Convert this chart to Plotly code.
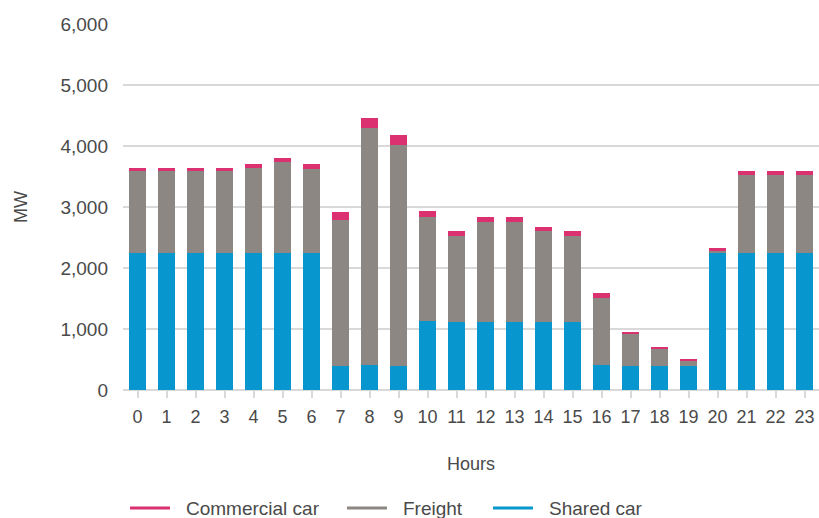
import plotly.graph_objects as go

hours = list(range(24))
hour_labels = [str(h) for h in hours]

shared_car = [2250, 2250, 2250, 2250, 2250, 2250, 2250, 400, 410, 400,
              1130, 1115, 1115, 1115, 1115, 1115, 410, 400, 400, 400,
              2250, 2250, 2250, 2250]
freight = [1340, 1340, 1340, 1340, 1390, 1490, 1375, 2390, 3885, 3615,
           1705, 1410, 1640, 1640, 1490, 1410, 1100, 520, 270, 75,
           35, 1275, 1275, 1275]
commercial_car = [50, 50, 50, 50, 65, 65, 80, 130, 165, 165,
                  100, 80, 80, 80, 65, 80, 80, 35, 35, 35,
                  50, 65, 65, 65]

series_names = ["Shared car", "Freight", "Commercial car"]
series_values = [shared_car, freight, commercial_car]
series_colors = ["#0797CE", "#8C8782", "#DC3170"]

FONT = "Liberation Sans, Arial, sans-serif"
TEXT = "#4a4a4a"
GRID = "#d9d9d9"

W, H = 819, 518
ML, MR, MT, MB = 123, 0, 24, 128
PW, PH = W - ML - MR, H - MT - MB


def px_x(x):
    return (x - ML) / PW


def px_y(y):
    return (H - MB - y) / PH


fig = go.Figure()
for name, vals, color in zip(series_names, series_values, series_colors):
    fig.add_trace(go.Bar(x=hours, y=vals, name=name, marker_color=color,
                         marker_line_width=0, showlegend=False))

# Horizontal legend below the chart: short colored line + label per series
legend_starts = [493, 347, 130]  # left edge of each key line (px)
legend_y = 508
shapes, annotations = [], []
for name, color, x0 in zip(series_names, series_colors, legend_starts):
    shapes.append(dict(type="line", xref="paper", yref="paper",
                       x0=px_x(x0), x1=px_x(x0 + 40),
                       y0=px_y(legend_y), y1=px_y(legend_y),
                       line=dict(color=color, width=3)))
    annotations.append(dict(xref="paper", yref="paper", x=px_x(x0 + 54),
                            y=px_y(legend_y), xanchor="left", yanchor="middle",
                            text=name, showarrow=False,
                            font=dict(size=19, color=TEXT, family=FONT)))

fig.update_layout(
    barmode="stack",
    bargap=0.38,
    width=W, height=H,
    margin=dict(l=ML, r=MR, t=MT, b=MB),
    plot_bgcolor="white", paper_bgcolor="white",
    font=dict(family=FONT, size=18, color=TEXT),
    showlegend=False,
    shapes=shapes,
    annotations=annotations,
)
fig.update_xaxes(
    tickmode="array", tickvals=hours, ticktext=hour_labels,
    range=[-0.5, 23.5], automargin=False,
    ticks="outside", ticklen=7, tickwidth=2, tickcolor=GRID,
    ticklabelstandoff=3,
    showgrid=False, showline=False,
    title=dict(text="Hours", standoff=31, font=dict(size=18, color=TEXT)),
    tickfont=dict(size=18, color=TEXT),
)
fig.update_yaxes(
    range=[0, 6000], dtick=1000, tickformat=",", automargin=False,
    showgrid=True, gridcolor=GRID, gridwidth=2,
    zeroline=True, zerolinecolor=GRID, zerolinewidth=2,
    ticklabelstandoff=14,
    title=dict(text="MW", standoff=28, font=dict(size=18, color=TEXT)),
    tickfont=dict(size=19, color=TEXT),
)

fig.write_html("out.html")
